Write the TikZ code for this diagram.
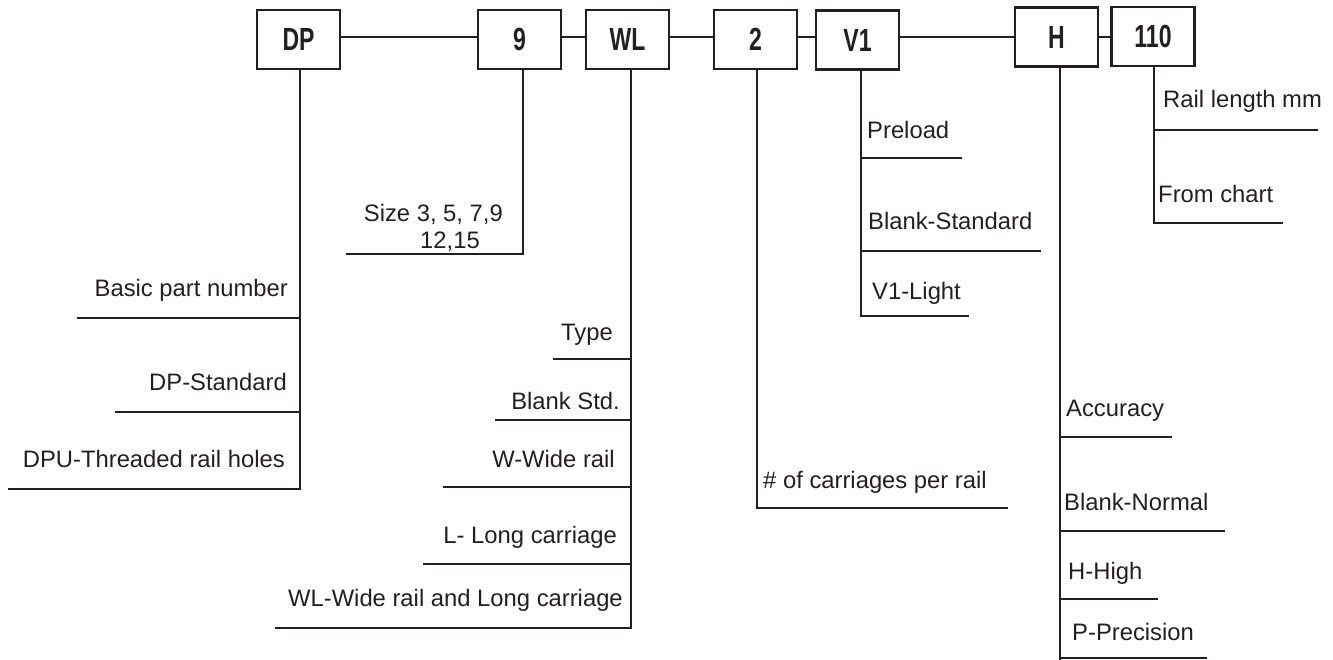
\documentclass[tikz,border=0pt]{standalone}
\usepackage{fontspec}
\setmainfont{Liberation Sans}
\newfontfamily\boxfont{Liberation Sans}[FakeStretch=0.72]
\definecolor{ink}{RGB}{35,31,32}
\begin{document}
\begin{tikzpicture}[x=1pt,y=-1pt,
  ln/.style={line width=2.6pt, draw=ink},
  pbox/.style={draw=ink, line width=2.6pt, minimum width=83pt, minimum height=59pt,
    inner sep=0pt, text=ink, font=\boxfont\bfseries\fontsize{32}{34}\selectfont},
  lbl/.style={text=ink, inner sep=0pt, font=\fontsize{23.8}{26}\selectfont},
  le/.style={lbl, anchor=base east},
  lw/.style={lbl, anchor=base west}]
\useasboundingbox (0,0) rectangle (1333,660);

% boxes
\node[pbox] (DP)  at (298.5,39.5) {DP};
\node[pbox] (n9)  at (519.5,39.5) {9};
\node[pbox] (WL)  at (627.5,39.5) {WL};
\node[pbox] (n2)  at (755.5,39.5) {2};
\node[pbox] (V1)  at (857.5,40)   {V1};
\node[pbox] (H)   at (1056.5,37)  {H};
\node[pbox] (n110) at (1153,36.5) {110};

% top connectors
\coordinate (top) at (0,37);
\draw[ln] (DP.east|-top) -- (n9.west|-top);
\draw[ln] (n9.east|-top) -- (WL.west|-top);
\draw[ln] (WL.east|-top) -- (n2.west|-top);
\draw[ln] (n2.east|-top) -- (V1.west|-top);
\draw[ln] (V1.east|-top) -- (H.west|-top);
\draw[ln] (H.east|-top) -- (n110.west|-top);

% DP branch
\coordinate (dpB) at (300,489);
\coordinate (dpL) at (8,489);
\draw[ln] (DP.south -| dpB) -- (dpB) -- (dpL);
\draw[ln] (77,318) -- (300,318);
\draw[ln] (115,412) -- (300,412);
\node[le] (dpT1) at (288,297) {Basic part number};
\node[le] (dpT2) at (287,390) {DP-Standard};
\node[le] (dpT3) at (285,467) {DPU-Threaded rail holes};

% size branch
\coordinate (szB) at (523,254);
\coordinate (szL) at (346,254);
\draw[ln] (n9.south -| szB) -- (szB) -- (szL);
\node[le] (sz1) at (503,222) {Size 3, 5, 7,9};
\node[le] (sz2) at (480,249) {12,15};

% WL branch
\coordinate (wlB) at (631,628);
\coordinate (wlL) at (275,628);
\draw[ln] (WL.south -| wlB) -- (wlB) -- (wlL);
\draw[ln] (553,359) -- (631,359);
\draw[ln] (495,420) -- (631,420);
\draw[ln] (443,487) -- (631,487);
\draw[ln] (423,564) -- (631,564);
\node[le] (wlT1) at (613,341) {Type};
\node[le] (wlT2) at (620,409) {Blank Std.};
\node[le] (wlT3) at (615,467) {W-Wide rail};
\node[le] (wlT4) at (617,543) {L- Long carriage};
\node[le] (wlT5) at (623,606) {WL-Wide rail and Long carriage};

% 2 branch
\coordinate (twoB) at (757,508);
\coordinate (twoR) at (1008,508);
\draw[ln] (n2.south -| twoB) -- (twoB) -- (twoR);
\node[lw] (twoT) at (763,488) {\# of carriages per rail};

% V1 branch
\coordinate (v1B) at (861,316);
\coordinate (v1R) at (969,316);
\draw[ln] (V1.south -| v1B) -- (v1B) -- (v1R);
\draw[ln] (861,158) -- (962,158);
\draw[ln] (861,251) -- (1041,251);
\node[lw] (v1T1) at (867,139) {Preload};
\node[lw] (v1T2) at (868,230) {Blank-Standard};
\node[lw] (v1T3) at (872,299) {V1-Light};

% H branch
\coordinate (hB) at (1060,660);
\draw[ln] (H.south -| hB) -- (hB);
\draw[ln] (1060,437) -- (1172,437);
\draw[ln] (1060,531) -- (1225,531);
\draw[ln] (1060,599) -- (1158,599);
\draw[ln] (1060,658) -- (1207,658);
\node[lw] (hT1) at (1066,416) {Accuracy};
\node[lw] (hT2) at (1064,510) {Blank-Normal};
\node[lw] (hT3) at (1068,579) {H-High};
\node[lw] (hT4) at (1072,640) {P-Precision};

% 110 branch
\coordinate (tB) at (1154,223);
\coordinate (tR) at (1283,223);
\draw[ln] (n110.south -| tB) -- (tB) -- (tR);
\draw[ln] (1154,130) -- (1318,130);
\node[lw] (tT1) at (1163,108) {Rail length mm};
\node[lw] (tT2) at (1158,203) {From chart};
\end{tikzpicture}
\end{document}
